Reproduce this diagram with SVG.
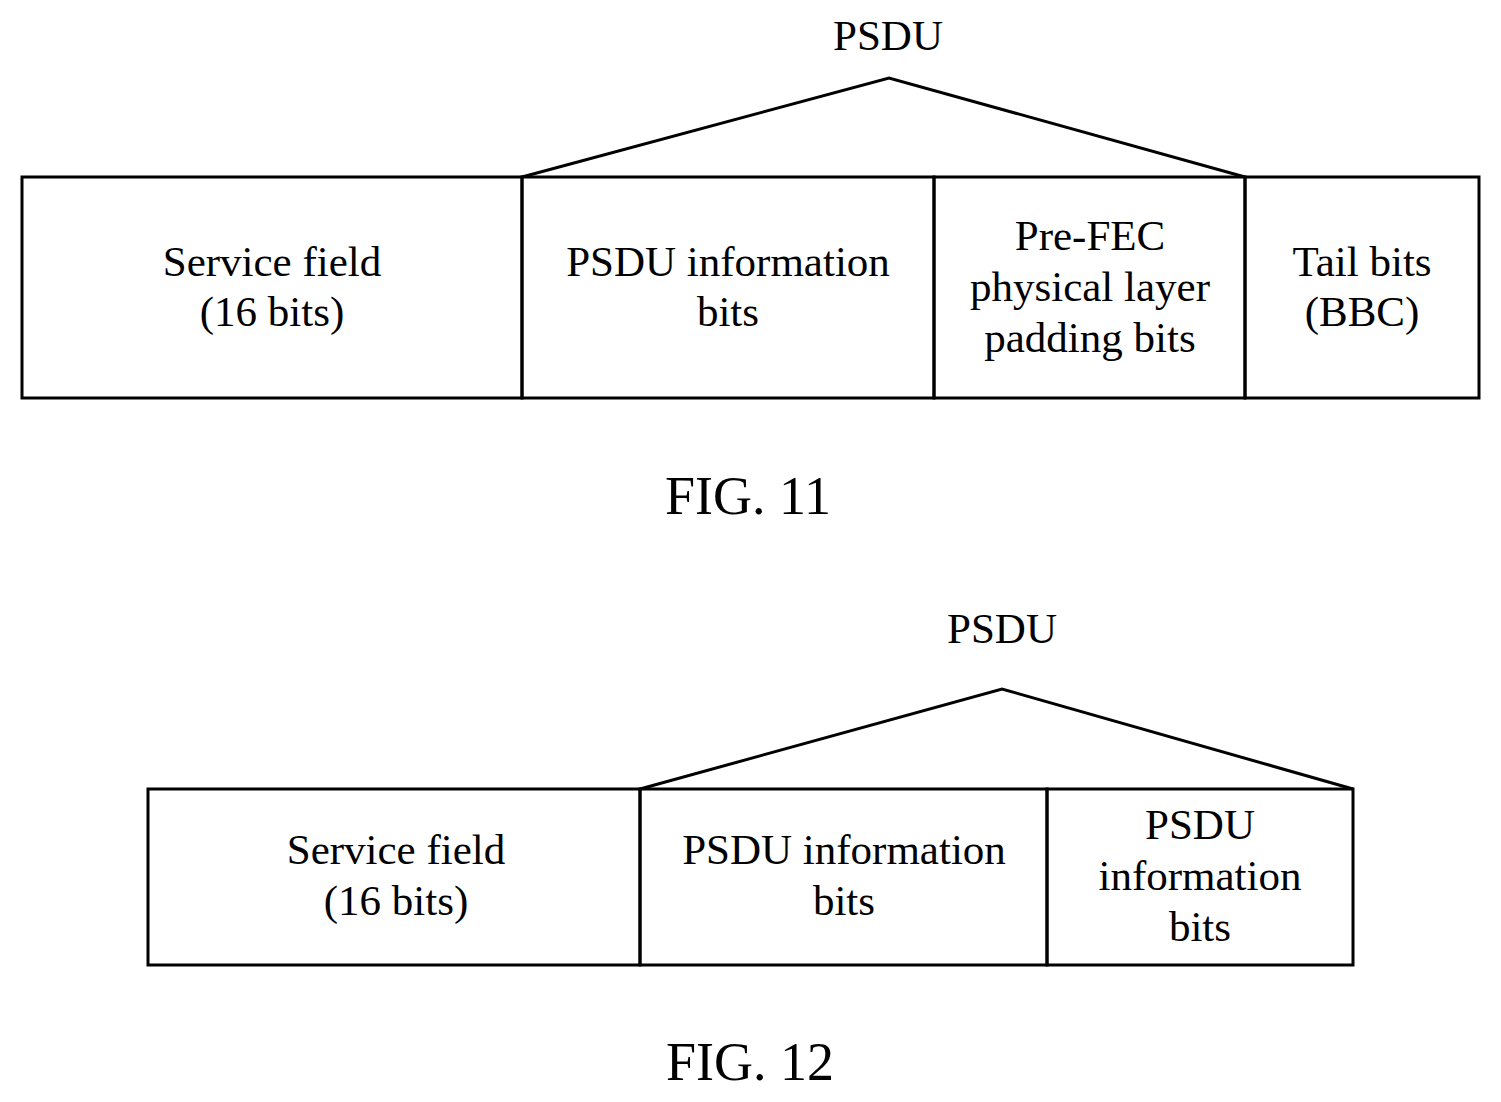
<svg xmlns="http://www.w3.org/2000/svg" width="1501" height="1102" viewBox="0 0 1501 1102">
<style>
.b,polyline{fill:none;stroke:#000;stroke-width:3}
text{font-family:"Liberation Serif",serif;font-size:43px;text-anchor:middle;fill:#000}
.f{font-size:54px}
</style>
<rect x="0" y="0" width="1501" height="1102" fill="#fff"/>
<g id="fig11">
<g id="n1"><rect class="b" x="22" y="177" width="500" height="221"/><text x="272" y="276">Service field</text><text x="272" y="326">(16 bits)</text></g>
<g id="n2"><rect class="b" x="522" y="177" width="412" height="221"/><text x="728" y="276">PSDU information</text><text x="728" y="326">bits</text></g>
<g id="n3"><rect class="b" x="934" y="177" width="311" height="221"/><text x="1090" y="250">Pre-FEC</text><text x="1090" y="301">physical layer</text><text x="1090" y="352">padding bits</text></g>
<g id="n4"><rect class="b" x="1245" y="177" width="234" height="221"/><text x="1362" y="276">Tail bits</text><text x="1362" y="326">(BBC)</text></g>
<text x="888" y="50">PSDU</text>
<text class="f" x="748" y="514">FIG. 11</text>
</g>
<g id="fig12">
<g id="m1"><rect class="b" x="148" y="789" width="492" height="176"/><text x="396" y="864">Service field</text><text x="396" y="915">(16 bits)</text></g>
<g id="m2"><rect class="b" x="640" y="789" width="407" height="176"/><text x="844" y="864">PSDU information</text><text x="844" y="915">bits</text></g>
<g id="m3"><rect class="b" x="1047" y="789" width="306" height="176"/><text x="1200" y="839">PSDU</text><text x="1200" y="890">information</text><text x="1200" y="941">bits</text></g>
<text x="1002" y="643">PSDU</text>
<text class="f" x="750" y="1080">FIG. 12</text>
</g>
<g id="connectors">
<polyline points="522,177 889,78 1245,177"/>
<polyline points="640,789 1002,689 1353,789"/>
</g>
</svg>
